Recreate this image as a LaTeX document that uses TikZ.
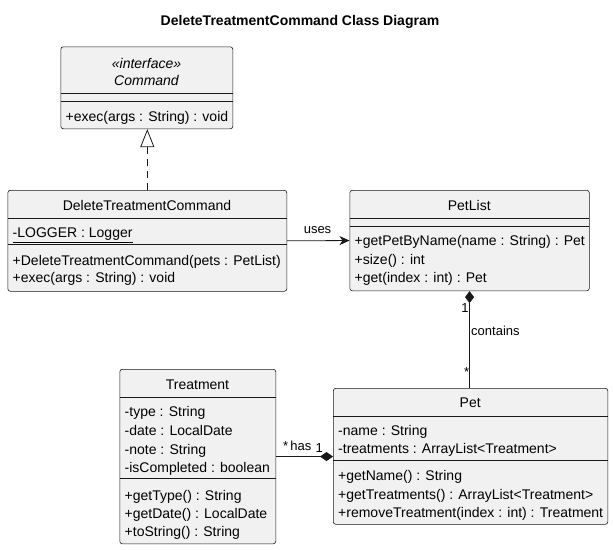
\documentclass[tikz,border=0pt]{standalone}
\usepackage{fontspec}
\setmainfont{Liberation Sans}
\usetikzlibrary{arrows.meta}
\definecolor{boxfill}{HTML}{F1F1F1}
\definecolor{boxline}{HTML}{181818}
\begin{document}
\begin{tikzpicture}[x=1pt,y=-1pt,
  classbox/.style={draw=boxline, line width=0.6pt, fill=boxfill, rounded corners=2.5pt, inner sep=0pt, anchor=north west},
  sepline/.style={draw=boxline, line width=0.6pt},
  txt/.style={anchor=base west, inner sep=0pt, font=\fontsize{14}{16}\selectfont},
  ctxt/.style={anchor=base, inner sep=0pt, font=\fontsize{14}{16}\selectfont},
  lbl/.style={anchor=base, inner sep=0pt, font=\fontsize{13}{15}\selectfont},
  conn/.style={draw=boxline, line width=0.8pt}]
\useasboundingbox (0,0) rectangle (613,549);

% title
\node[ctxt, font=\fontsize{14}{16}\selectfont\bfseries] (title) at (300,25) {DeleteTreatmentCommand Class Diagram};

% Command
\node[classbox, minimum width=172pt, minimum height=82pt] (cmd) at (60.5,46.5) {};
\draw[sepline] (60.5,93) -- (232.5,93);
\draw[sepline] (60.5,101) -- (232.5,101);
\node[ctxt, font=\fontsize{14}{16}\selectfont\itshape] (cmdst) at (146.5,68.3) {«interface»};
\node[ctxt, font=\fontsize{14}{16}\selectfont\itshape] (cmdname) at (146.5,85.7) {Command};
\node[txt] (cmdm1) at (65.5,121.7) {+exec(args : String) : void};

% DeleteTreatmentCommand
\node[classbox, minimum width=279pt, minimum height=101pt] (dtc) at (7.5,190) {};
\draw[sepline] (7.5,218.5) -- (286.5,218.5);
\draw[sepline] (7.5,244.5) -- (286.5,244.5);
\node[ctxt] (dtcname) at (147,210) {DeleteTreatmentCommand};
\node[txt] (dtcf1) at (12.5,237.7) {\underline{-LOGGER : Logger}};
\node[txt] (dtcm1) at (12.5,265) {+DeleteTreatmentCommand(pets : PetList)};
\node[txt] (dtcm2) at (12.5,282.7) {+exec(args : String) : void};

% PetList
\node[classbox, minimum width=239.5pt, minimum height=100.5pt] (petlist) at (349.5,190) {};
\draw[sepline] (349.5,218.5) -- (589,218.5);
\draw[sepline] (349.5,226.7) -- (589,226.7);
\node[ctxt] (plname) at (469.25,210.7) {PetList};
\node[txt] (plm1) at (354.5,245.7) {+getPetByName(name : String) : Pet};
\node[txt] (plm2) at (354.5,264) {+size() : int};
\node[txt] (plm3) at (354.5,282.3) {+get(index : int) : Pet};

% Treatment
\node[classbox, minimum width=156pt, minimum height=174.5pt] (treatment) at (119.5,369) {};
\draw[sepline] (119.5,397.5) -- (275.5,397.5);
\draw[sepline] (119.5,478.5) -- (275.5,478.5);
\node[ctxt] (trname) at (197.5,389) {Treatment};
\node[txt] (trf1) at (124.5,416.7) {-type : String};
\node[txt] (trf2) at (124.5,435.7) {-date : LocalDate};
\node[txt] (trf3) at (124.5,454.3) {-note : String};
\node[txt] (trf4) at (124.5,472.7) {-isCompleted : boolean};
\node[txt] (trm1) at (124.5,500) {+getType() : String};
\node[txt] (trm2) at (124.5,518.3) {+getDate() : LocalDate};
\node[txt] (trm3) at (124.5,536.7) {+toString() : String};

% Pet
\node[classbox, minimum width=274.5pt, minimum height=136pt] (pet) at (333,388) {};
\draw[sepline] (333,416) -- (607.5,416);
\draw[sepline] (333,460.7) -- (607.5,460.7);
\node[ctxt] (petname) at (470.25,407.5) {Pet};
\node[txt] (petf1) at (338,435.3) {-name : String};
\node[txt] (petf2) at (338,453.3) {-treatments : ArrayList<Treatment>};
\node[txt] (petm1) at (338,480) {+getName() : String};
\node[txt] (petm2) at (338,499.3) {+getTreatments() : ArrayList<Treatment>};
\node[txt] (petm3) at (338,517.3) {+removeTreatment(index : int) : Treatment};

% connectors
\draw[conn, dash pattern=on 7pt off 5pt, -{Triangle[open, length=18pt, width=14pt]}] (dtc.north) -- (dtc.north |- cmd.south);
\draw[conn, -{Stealth[length=10pt, width=9pt, inset=3pt]}] (dtc.east) -- (petlist.west);
\draw[conn, {Diamond[length=12pt, width=9pt]}-] (petlist.south) -- (petlist.south |- pet.north);
\draw[conn, -{Diamond[length=13pt, width=9pt]}] (treatment.east) -- (treatment.east -| pet.west);

% labels
\node[lbl] (usesl) at (317.5,233) {uses};
\node[lbl] (cont1) at (465,312) {1};
\node[lbl, anchor=base west] (contl) at (471,335.5) {contains};
\node[lbl] (contst) at (466.7,376.5) {*};
\node[lbl] (hasst) at (285.7,450) {*};
\node[lbl] (hasl) at (300.9,450) {has};
\node[lbl] (has1) at (319.3,452) {1};
\end{tikzpicture}
\end{document}
